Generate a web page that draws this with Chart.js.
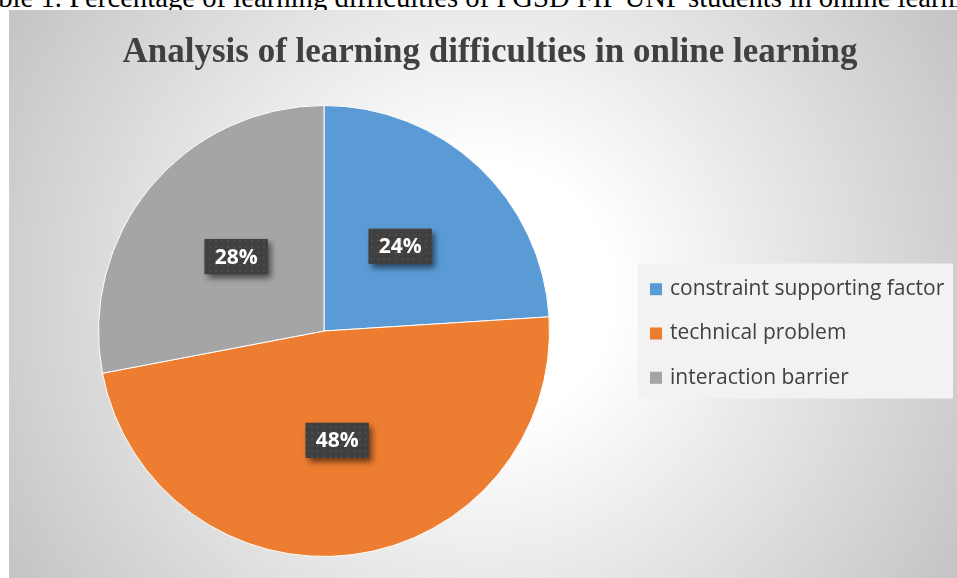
<!DOCTYPE html>
<html>
<head>
<meta charset="utf-8">
<script src="https://cdn.jsdelivr.net/npm/chart.js@4.4.1/dist/chart.umd.min.js"></script>
<style>
  html, body { margin: 0; padding: 0; background: #fff; overflow: hidden; }
  body { width: 957px; height: 578px; position: relative; }
  #caption {
    position: absolute; left: -30px; top: -17px;
    font-family: "Liberation Serif", serif; font-size: 28.7px; line-height: 1;
    white-space: nowrap; color: #000;
  }
  #box {
    position: absolute; left: 9px; top: 10px; width: 948px; height: 568px;
    background: radial-gradient(circle at 50% 50%, #ffffff 0px, #ffffff 130px, #c4c4c4 551px);
  }
  #box canvas { display: block; }
</style>
</head>
<body>
<div id="caption">Table 1. Percentage of learning difficulties of PGSD FIP UNP students in online learning</div>
<div id="box"><canvas id="pie" width="948" height="568"></canvas></div>
<script>
// data
const categories = ['constraint supporting factor', 'technical problem', 'interaction barrier'];
const percentages = [24, 48, 28];
const chartTitle = 'Analysis of learning difficulties in online learning';

// little dotted tile for the dark label boxes
function dotTile() {
  const c = document.createElement('canvas');
  c.width = 6; c.height = 6;
  const g = c.getContext('2d');
  g.fillStyle = '#404040';
  g.fillRect(0, 0, 6, 6);
  g.fillStyle = '#4d4d4d';
  g.fillRect(2, 2, 2, 2);
  return c;
}

function drawLegend(chart, box) {
  const ctx = chart.ctx;
  const left = box.left + 13;
  const cy = (box.top + box.bottom) / 2;
  const w = 315, h = 135;
  const colors = chart.data.datasets[0].backgroundColor;
  ctx.save();
  ctx.fillStyle = '#f2f2f2';
  ctx.fillRect(left, cy - h / 2, w, h);
  ctx.font = '21px "Open Sans"';
  ctx.textBaseline = 'middle';
  chart.data.labels.forEach((lab, i) => {
    const y = cy + 2.5 + (i - 1) * 44.3;
    ctx.fillStyle = colors[i];
    ctx.fillRect(left + 12, y - 6, 12, 12);
    ctx.fillStyle = '#404040';
    ctx.fillText(lab, left + 32, y);
  });
  ctx.restore();
}

// reserves the space on the right and paints the legend in it
const legendArea = {
  id: 'legendArea',
  beforeInit(chart) {
    Chart.layouts.addBox(chart, {
      position: 'right', weight: 0, fullSize: false, options: {},
      left: 0, top: 0, right: 0, bottom: 0, width: 0, height: 0,
      update(maxW, maxH) { this.width = 332; this.height = maxH; },
      isHorizontal() { return false; },
      draw() { drawLegend(chart, this); }
    });
  }
};

const pctLabels = {
  id: 'pctLabels',
  afterDatasetsDraw(chart) {
    const ctx = chart.ctx;
    const meta = chart.getDatasetMeta(0);
    const pattern = ctx.createPattern(dotTile(), 'repeat');
    ctx.save();
    ctx.font = 'bold 21px "Open Sans"';
    ctx.textAlign = 'center';
    ctx.textBaseline = 'middle';
    meta.data.forEach((arc, i) => {
      const p = arc.tooltipPosition();
      const cx = p.x - 1, cy = p.y - 2.5;
      const txt = percentages[i] + '%';
      const w = Math.round(ctx.measureText(txt).width) + 20, h = 35;
      const x = cx - w / 2, y = cy - h / 2;
      ctx.save();
      ctx.shadowColor = 'rgba(0,0,0,0.55)';
      ctx.shadowBlur = 6;
      ctx.shadowOffsetX = 3;
      ctx.shadowOffsetY = 4;
      ctx.fillStyle = '#404040';
      ctx.fillRect(x, y, w, h);
      ctx.restore();
      ctx.fillStyle = pattern;
      ctx.fillRect(x, y, w, h);
      ctx.fillStyle = '#ffffff';
      ctx.fillText(txt, cx, cy + 1);
    });
    ctx.restore();
  }
};

new Chart(document.getElementById('pie'), {
  type: 'pie',
  data: {
    labels: categories,
    datasets: [{
      data: percentages,
      backgroundColor: ['#5B9BD5', '#ED7D31', '#A5A5A5'],
      borderColor: '#ffffff',
      borderWidth: 1
    }]
  },
  options: {
    responsive: false,
    animation: false,
    layout: { padding: { left: 14, right: 0, top: 0, bottom: 21 } },
    plugins: {
      legend: { display: false },
      tooltip: { enabled: false },
      title: {
        display: true,
        text: chartTitle,
        color: '#404040',
        font: { family: '"Liberation Serif", serif', size: 35, weight: 'bold', lineHeight: 1.2 },
        padding: { top: 22, bottom: 31 }
      }
    }
  },
  plugins: [legendArea, pctLabels]
});
</script>
</body>
</html>
